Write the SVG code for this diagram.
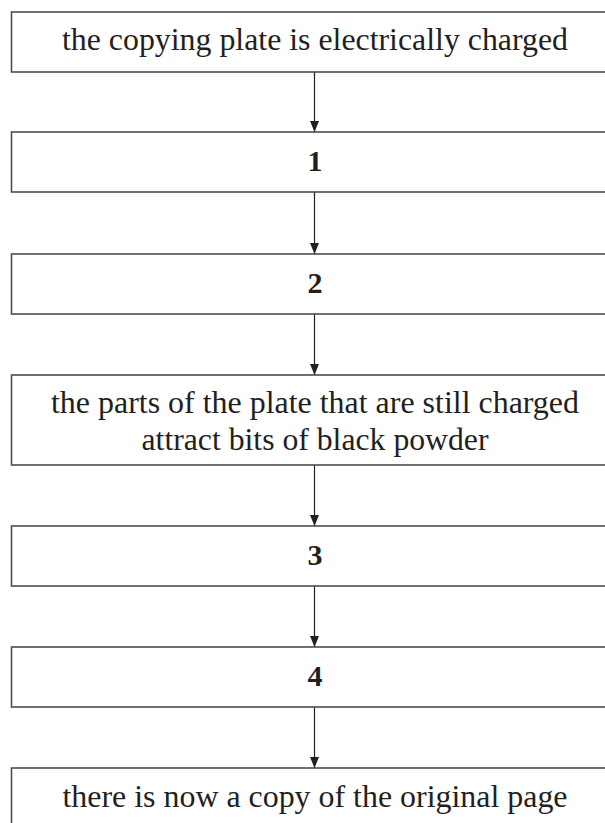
<svg xmlns="http://www.w3.org/2000/svg" width="605" height="823" viewBox="0 0 605 823">
<defs>
<style>
.box{fill:#fff;stroke:#4d4d4d;stroke-width:1.6}
.t{font-family:"Liberation Serif","Times New Roman",serif;font-size:30.5px;fill:#231f20;text-anchor:middle}
.n{font-family:"Liberation Serif","Times New Roman",serif;font-size:30px;font-weight:bold;fill:#231f20;text-anchor:middle}
.c{stroke:#231f20;stroke-width:1.2;fill:none;marker-end:url(#ah)}
</style>
<marker id="ah" viewBox="0 0 11 10" refX="11" refY="5" markerWidth="11" markerHeight="10" markerUnits="userSpaceOnUse" orient="auto">
<path d="M0,0.5 L11,5 L0,9.5 z" fill="#231f20"/>
</marker>
</defs>
<rect width="605" height="823" fill="#fff"/>
<g id="connectors">
<line class="c" x1="314.5" y1="72" x2="314.5" y2="132"/>
<line class="c" x1="314.5" y1="192" x2="314.5" y2="254"/>
<line class="c" x1="314.5" y1="314" x2="314.5" y2="375"/>
<line class="c" x1="314.5" y1="465" x2="314.5" y2="526"/>
<line class="c" x1="314.5" y1="586" x2="314.5" y2="647"/>
<line class="c" x1="314.5" y1="707" x2="314.5" y2="768"/>
</g>
<g id="n0"><rect class="box" x="11.5" y="12" width="607" height="60"/><text class="t" x="315" y="50" textLength="506" lengthAdjust="spacingAndGlyphs">the copying plate is electrically charged</text></g>
<g id="n1"><rect class="box" x="11.5" y="132" width="607" height="60"/><text class="n" x="315" y="171">1</text></g>
<g id="n2"><rect class="box" x="11.5" y="254" width="607" height="60"/><text class="n" x="315" y="293">2</text></g>
<g id="n3"><rect class="box" x="11.5" y="375" width="607" height="90"/><text class="t" x="315" y="413" textLength="528" lengthAdjust="spacingAndGlyphs">the parts of the plate that are still charged</text><text class="t" x="315" y="450" textLength="347" lengthAdjust="spacingAndGlyphs">attract bits of black powder</text></g>
<g id="n4"><rect class="box" x="11.5" y="526" width="607" height="60"/><text class="n" x="315" y="565">3</text></g>
<g id="n5"><rect class="box" x="11.5" y="647" width="607" height="60"/><text class="n" x="315" y="686">4</text></g>
<g id="n6"><rect class="box" x="11.5" y="768" width="607" height="70"/><text class="t" x="315" y="807" textLength="505" lengthAdjust="spacingAndGlyphs">there is now a copy of the original page</text></g>
</svg>
